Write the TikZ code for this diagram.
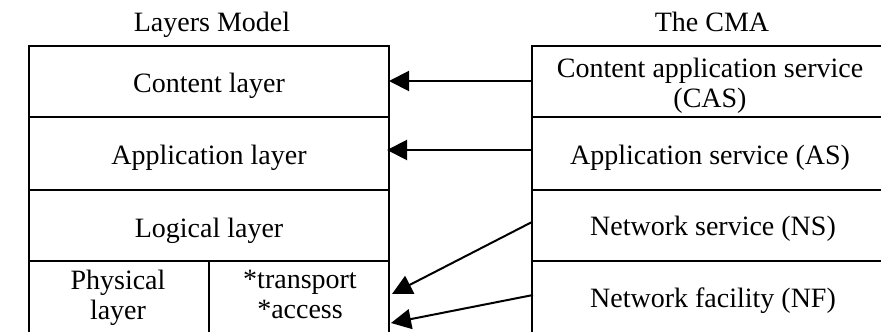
\documentclass[tikz,border=0pt]{standalone}
\usepackage{fontspec}
\setmainfont{Liberation Serif}
\usetikzlibrary{arrows.meta,calc}
\begin{document}
\begin{tikzpicture}[x=1pt,y=-1pt,
  cell/.style={draw, line width=2.2pt, inner sep=0pt, outer sep=0pt, anchor=north west},
  lbl/.style={font=\fontsize{28}{30}\selectfont, inner sep=0pt, align=center},
  link/.style={line width=2pt, -{Triangle[length=20pt,width=20pt]}}]
\useasboundingbox (0,0) rectangle (881,332);
\clip (0,0) rectangle (881,332);
% left table (Layers Model)
\node[cell, minimum width=360pt, minimum height=71pt] (content) at (29,46) {};
\node[cell, minimum width=360pt, minimum height=73pt] (app) at (29,117) {};
\node[cell, minimum width=360pt, minimum height=71pt] (logic) at (29,190) {};
\node[cell, minimum width=180pt, minimum height=76pt] (phys) at (29,261) {};
\node[cell, minimum width=180pt, minimum height=76pt] (trans) at (209,261) {};
% right table (The CMA)
\node[cell, minimum width=362pt, minimum height=71pt] (cas) at (532,46) {};
\node[cell, minimum width=362pt, minimum height=73pt] (as) at (532,117) {};
\node[cell, minimum width=362pt, minimum height=71pt] (ns) at (532,190) {};
\node[cell, minimum width=362pt, minimum height=76pt] (nf) at (532,261) {};
% titles
\node[lbl, anchor=base] (tleft) at (212,31) {Layers Model};
\node[lbl, anchor=base] (tright) at (712,31) {The CMA};
% left labels
\node[lbl, anchor=base] (lcontent) at (209,92) {Content layer};
\node[lbl, anchor=base] (lapp) at (209,164) {Application layer};
\node[lbl, anchor=base] (llogic) at (209,237) {Logical layer};
\node[lbl] (lphys) at (118,298) {Physical\\layer};
\node[lbl] (ltrans) at (300,294) {*transport\\*access};
% right labels
\node[lbl] (lcas) at (710,86) {Content application service\\(CAS)};
\node[lbl, anchor=base] (las) at (710,164) {Application service (AS)};
\node[lbl, anchor=base] (lns) at (713,235) {Network service (NS)};
\node[lbl, anchor=base] (lnf) at (713,307) {Network facility (NF)};
% connectors
\draw[link] ($(cas.north west)+(0,35)$) -- ($(content.north east)+(0,35)$);
\draw[link] ($(as.north west)+(-1,33)$) -- ($(app.north east)+(-2,33)$);
\draw[link] ($(ns.north west)+(0,32)$) -- ($(trans.north east)+(3,33)$);
\draw[link] ($(nf.north west)+(1,34)$) -- ($(trans.north east)+(2,62)$);
\end{tikzpicture}
\end{document}
